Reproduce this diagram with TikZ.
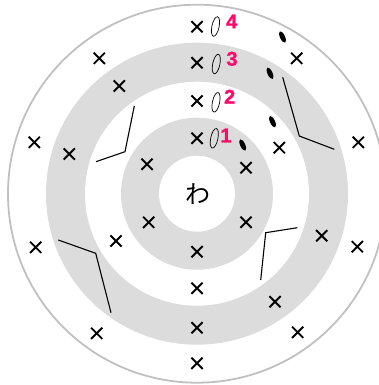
\documentclass[tikz,border=0pt]{standalone}
\usepackage{fontspec}
\newfontfamily\cjk{Noto Sans CJK JP}
\newfontfamily\numfont{Liberation Sans}[BoldFeatures={FakeBold=1.2}]
\definecolor{ringgray}{HTML}{DCDCDC}
\definecolor{edgegray}{HTML}{C0C0C0}
\definecolor{numpink}{HTML}{FF0A6A}
\newcommand{\numtxt}[1]{{\numfont\bfseries\fontsize{20pt}{20pt}\selectfont #1}}
\tikzset{
  xcross/.pic={\draw[line width=1.9pt] (-5.6pt,-5.6pt)--(5.6pt,5.6pt) (-5.6pt,5.6pt)--(5.6pt,-5.6pt);},
  openell/.style={draw=black, line width=0.7pt},
  blob/.style={fill=black},
  poly/.style={line width=1.1pt},
  numlabel/.style={text=numpink, inner sep=0pt}
}
\begin{document}
\begin{tikzpicture}[x=1pt,y=-1pt]
\useasboundingbox (0,0) rectangle (379,385);
\coordinate (c) at (197,193.7);
\fill[ringgray] (c) circle (151pt);
\fill[white] (c) circle (112pt);
\fill[ringgray] (c) circle (76pt);
\fill[white] (c) circle (38pt);
\draw[edgegray, line width=1.8pt] (c) circle (189pt);
\node[inner sep=0pt] (wa) at (197.5,194.5) {\cjk\fontsize{25pt}{25pt}\selectfont わ};
\foreach \p in {(197,26.7),(197,62.7),(197,101),(197,138.3),(197,251.7),(197,288.3),(197,327.7),(197,363.3),
  (99.3,58.3),(119.3,86),(34.3,142.3),(69.3,154),(147,164.3),(246,167.7),(279.3,147.7),(296.7,58.3),(358.3,142.3),
  (148.7,222.3),(246,222.3),(116,241),(35.7,247.3),(321.7,235.7),(357.3,246.7),(275,301.7),(96.7,333.3),(297.7,332.3)}
  \pic at \p {xcross};
\foreach \p in {(215.5,26.5),(216.3,64),(216,102.3),(214.3,138.3)}
  \draw[openell, shift={\p}, rotate=-12] (0,0) ellipse [x radius=3.6pt, y radius=10pt];
\node[numlabel] (n4) at (231.7,21.5) {\numtxt{4}};
\node[numlabel] (n3) at (232,58.8) {\numtxt{3}};
\node[numlabel] (n2) at (229.7,96.7) {\numtxt{2}};
\node[numlabel] (n1) at (226,135.5) {\numtxt{1}};
\foreach \p in {(282.5,37),(270,73.3),(272.5,121.7),(242.7,145)}
  \fill[blob, shift={\p}, rotate=25] (0,0) ellipse [x radius=2.5pt, y radius=6.2pt];
\draw[poly] (134.3,106) -- (125,151.7) -- (96,161.7);
\draw[poly] (282.7,77.3) -- (299.3,136) -- (334.3,149.3);
\draw[poly] (58.3,240) -- (95.7,253.3) -- (111,312.7);
\draw[poly] (297.3,227.7) -- (265.7,232.7) -- (260.7,280);
\end{tikzpicture}
\end{document}
